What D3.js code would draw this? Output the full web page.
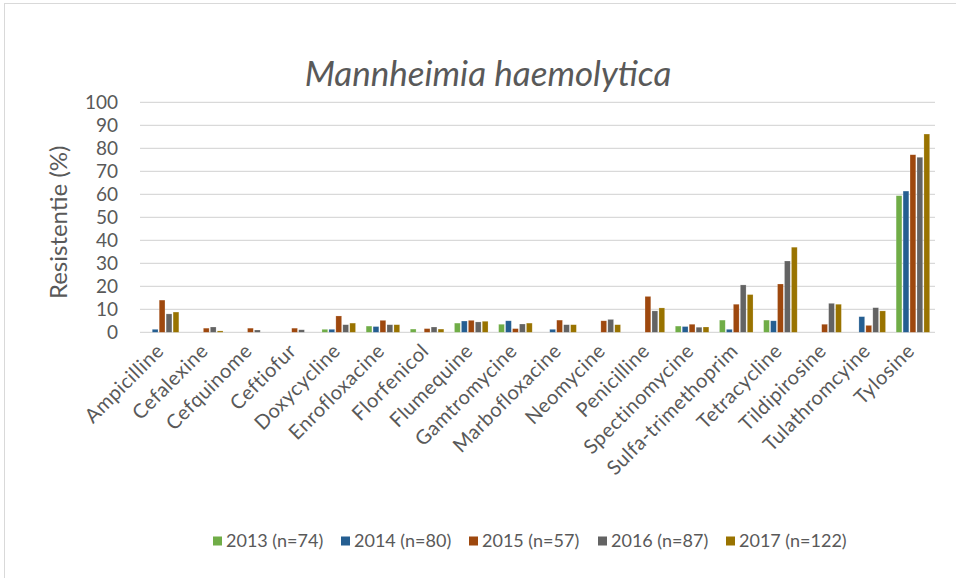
<!DOCTYPE html>
<html>
<head>
<meta charset="utf-8">
<script src="https://cdn.jsdelivr.net/npm/d3@7"></script>
<style>
  body { margin: 0; background: #fff; }
  svg { display: block; font-family: Lato, "Open Sans", sans-serif; }
</style>
</head>
<body>
<div id="chart"></div>
<script>
const categories = ['Ampicilline', 'Cefalexine', 'Cefquinome', 'Ceftiofur', 'Doxycycline',
    'Enrofloxacine', 'Florfenicol', 'Flumequine', 'Gamtromycine', 'Marbofloxacine',
    'Neomycine', 'Penicilline', 'Spectinomycine', 'Sulfa-trimethoprim', 'Tetracycline',
    'Tildipirosine', 'Tulathromcyine', 'Tylosine'];

const seriesNames = ['2013 (n=74)', '2014 (n=80)', '2015 (n=57)', '2016 (n=87)', '2017 (n=122)'];
const seriesColors = ['#70ad47', '#255e91', '#9e480e', '#636363', '#997300'];

const v2013 = [0, 0, 0, 0, 1.3, 2.7, 1.4, 4.0, 3.5, 0, 0, 0, 2.7, 5.3, 5.3, 0, 0, 59.4];
const v2014 = [1.3, 0, 0, 0, 1.3, 2.5, 0, 4.9, 5.0, 1.3, 0, 0, 2.5, 1.3, 5.0, 0, 6.8, 61.4];
const v2015 = [14, 1.8, 1.8, 1.8, 7.1, 5.2, 1.6, 5.2, 1.6, 5.3, 5.0, 15.6, 3.5, 12.2, 21, 3.5, 3.0, 77.2];
const v2016 = [8, 2.3, 1.0, 1.1, 3.3, 3.3, 2.3, 4.5, 3.6, 3.3, 5.6, 9.3, 2.2, 20.6, 31, 12.6, 10.7, 76.1];
const v2017 = [8.8, 0.6, 0, 0, 4.0, 3.3, 1.4, 4.8, 4.0, 3.3, 3.3, 10.6, 2.3, 16.4, 37, 12.2, 9.3, 86.2];

const yTicks = [0, 10, 20, 30, 40, 50, 60, 70, 80, 90, 100];

const width = 956, height = 578;
const textColor = '#595959';

const svg = d3.select('#chart').append('svg')
    .attr('width', width)
    .attr('height', height);

// chart frame (right and bottom edges fall outside the picture)
svg.append('rect')
    .attr('x', 4.5).attr('y', 3.5)
    .attr('width', 960).attr('height', 600)
    .attr('fill', 'none')
    .attr('stroke', '#d9d9d9');

const plot = { left: 140, right: 935, top: 102.3, bottom: 332.3 };

const x0 = d3.scaleBand()
    .domain(categories)
    .range([plot.left, plot.right])
    .paddingInner(0.24)
    .paddingOuter(0.12);

const x1 = d3.scaleBand()
    .domain(seriesNames)
    .range([0, x0.bandwidth()])
    .paddingInner(0.17);

const y = d3.scaleLinear()
    .domain([0, 100])
    .range([plot.bottom, plot.top]);

// gridlines
svg.append('g')
    .selectAll('line')
    .data(yTicks)
    .join('line')
    .attr('x1', plot.left)
    .attr('x2', plot.right)
    .attr('y1', d => y(d))
    .attr('y2', d => y(d))
    .attr('stroke', '#d9d9d9')
    .attr('stroke-width', 1.3);

// y tick labels
svg.append('g')
    .selectAll('text')
    .data(yTicks)
    .join('text')
    .attr('x', 118)
    .attr('y', d => y(d))
    .attr('dy', '0.35em')
    .attr('text-anchor', 'end')
    .attr('fill', textColor)
    .attr('font-size', 19)
    .text(d => d);

// y title
svg.append('text')
    .attr('transform', `translate(67,${(plot.top + plot.bottom) / 2 + 5}) rotate(-90)`)
    .attr('text-anchor', 'middle')
    .attr('fill', textColor)
    .attr('font-size', 24)
    .text('Resistentie (%)');

// bars
const allSeries = [v2013, v2014, v2015, v2016, v2017];
const rows = categories.map((c, i) => ({
    cat: c,
    vals: seriesNames.map((s, j) => ({ s, j, v: allSeries[j][i] }))
}));

svg.append('g')
    .selectAll('g')
    .data(rows)
    .join('g')
    .attr('transform', d => `translate(${x0(d.cat)},0)`)
    .selectAll('rect')
    .data(d => d.vals.filter(e => e.v > 0))
    .join('rect')
    .attr('x', d => x1(d.s))
    .attr('y', d => y(d.v))
    .attr('width', x1.bandwidth())
    .attr('height', d => y(0) - y(d.v))
    .attr('fill', d => seriesColors[d.j])
    .attr('stroke', '#ffffff')
    .attr('stroke-opacity', 0.35)
    .attr('stroke-width', 0.6);

// category labels
svg.append('g')
    .selectAll('text')
    .data(categories)
    .join('text')
    .attr('transform', d => `translate(${x0(d) + x0.bandwidth() / 2 - 2},${plot.bottom + 15}) rotate(-45)`)
    .attr('text-anchor', 'end')
    .attr('dy', '0.35em')
    .attr('fill', textColor)
    .attr('font-size', 20)
    .attr('letter-spacing', 0.5)
    .text(d => d);

// title
svg.append('text')
    .attr('x', 488)
    .attr('y', 86)
    .attr('text-anchor', 'middle')
    .attr('fill', textColor)
    .attr('font-size', 35)
    .attr('font-style', 'italic')
    .text('Mannheimia haemolytica');

// legend
const legendX = [213, 341, 469, 598, 726];
const legend = svg.append('g')
    .selectAll('g')
    .data(seriesNames)
    .join('g')
    .attr('transform', (d, i) => `translate(${legendX[i]},541)`);

legend.append('rect')
    .attr('x', 0).attr('y', -4.5)
    .attr('width', 9).attr('height', 9)
    .attr('fill', (d, i) => seriesColors[i]);

legend.append('text')
    .attr('x', 13)
    .attr('dy', '0.35em')
    .attr('fill', textColor)
    .attr('font-size', 18)
    .text(d => d);
</script>
</body>
</html>
